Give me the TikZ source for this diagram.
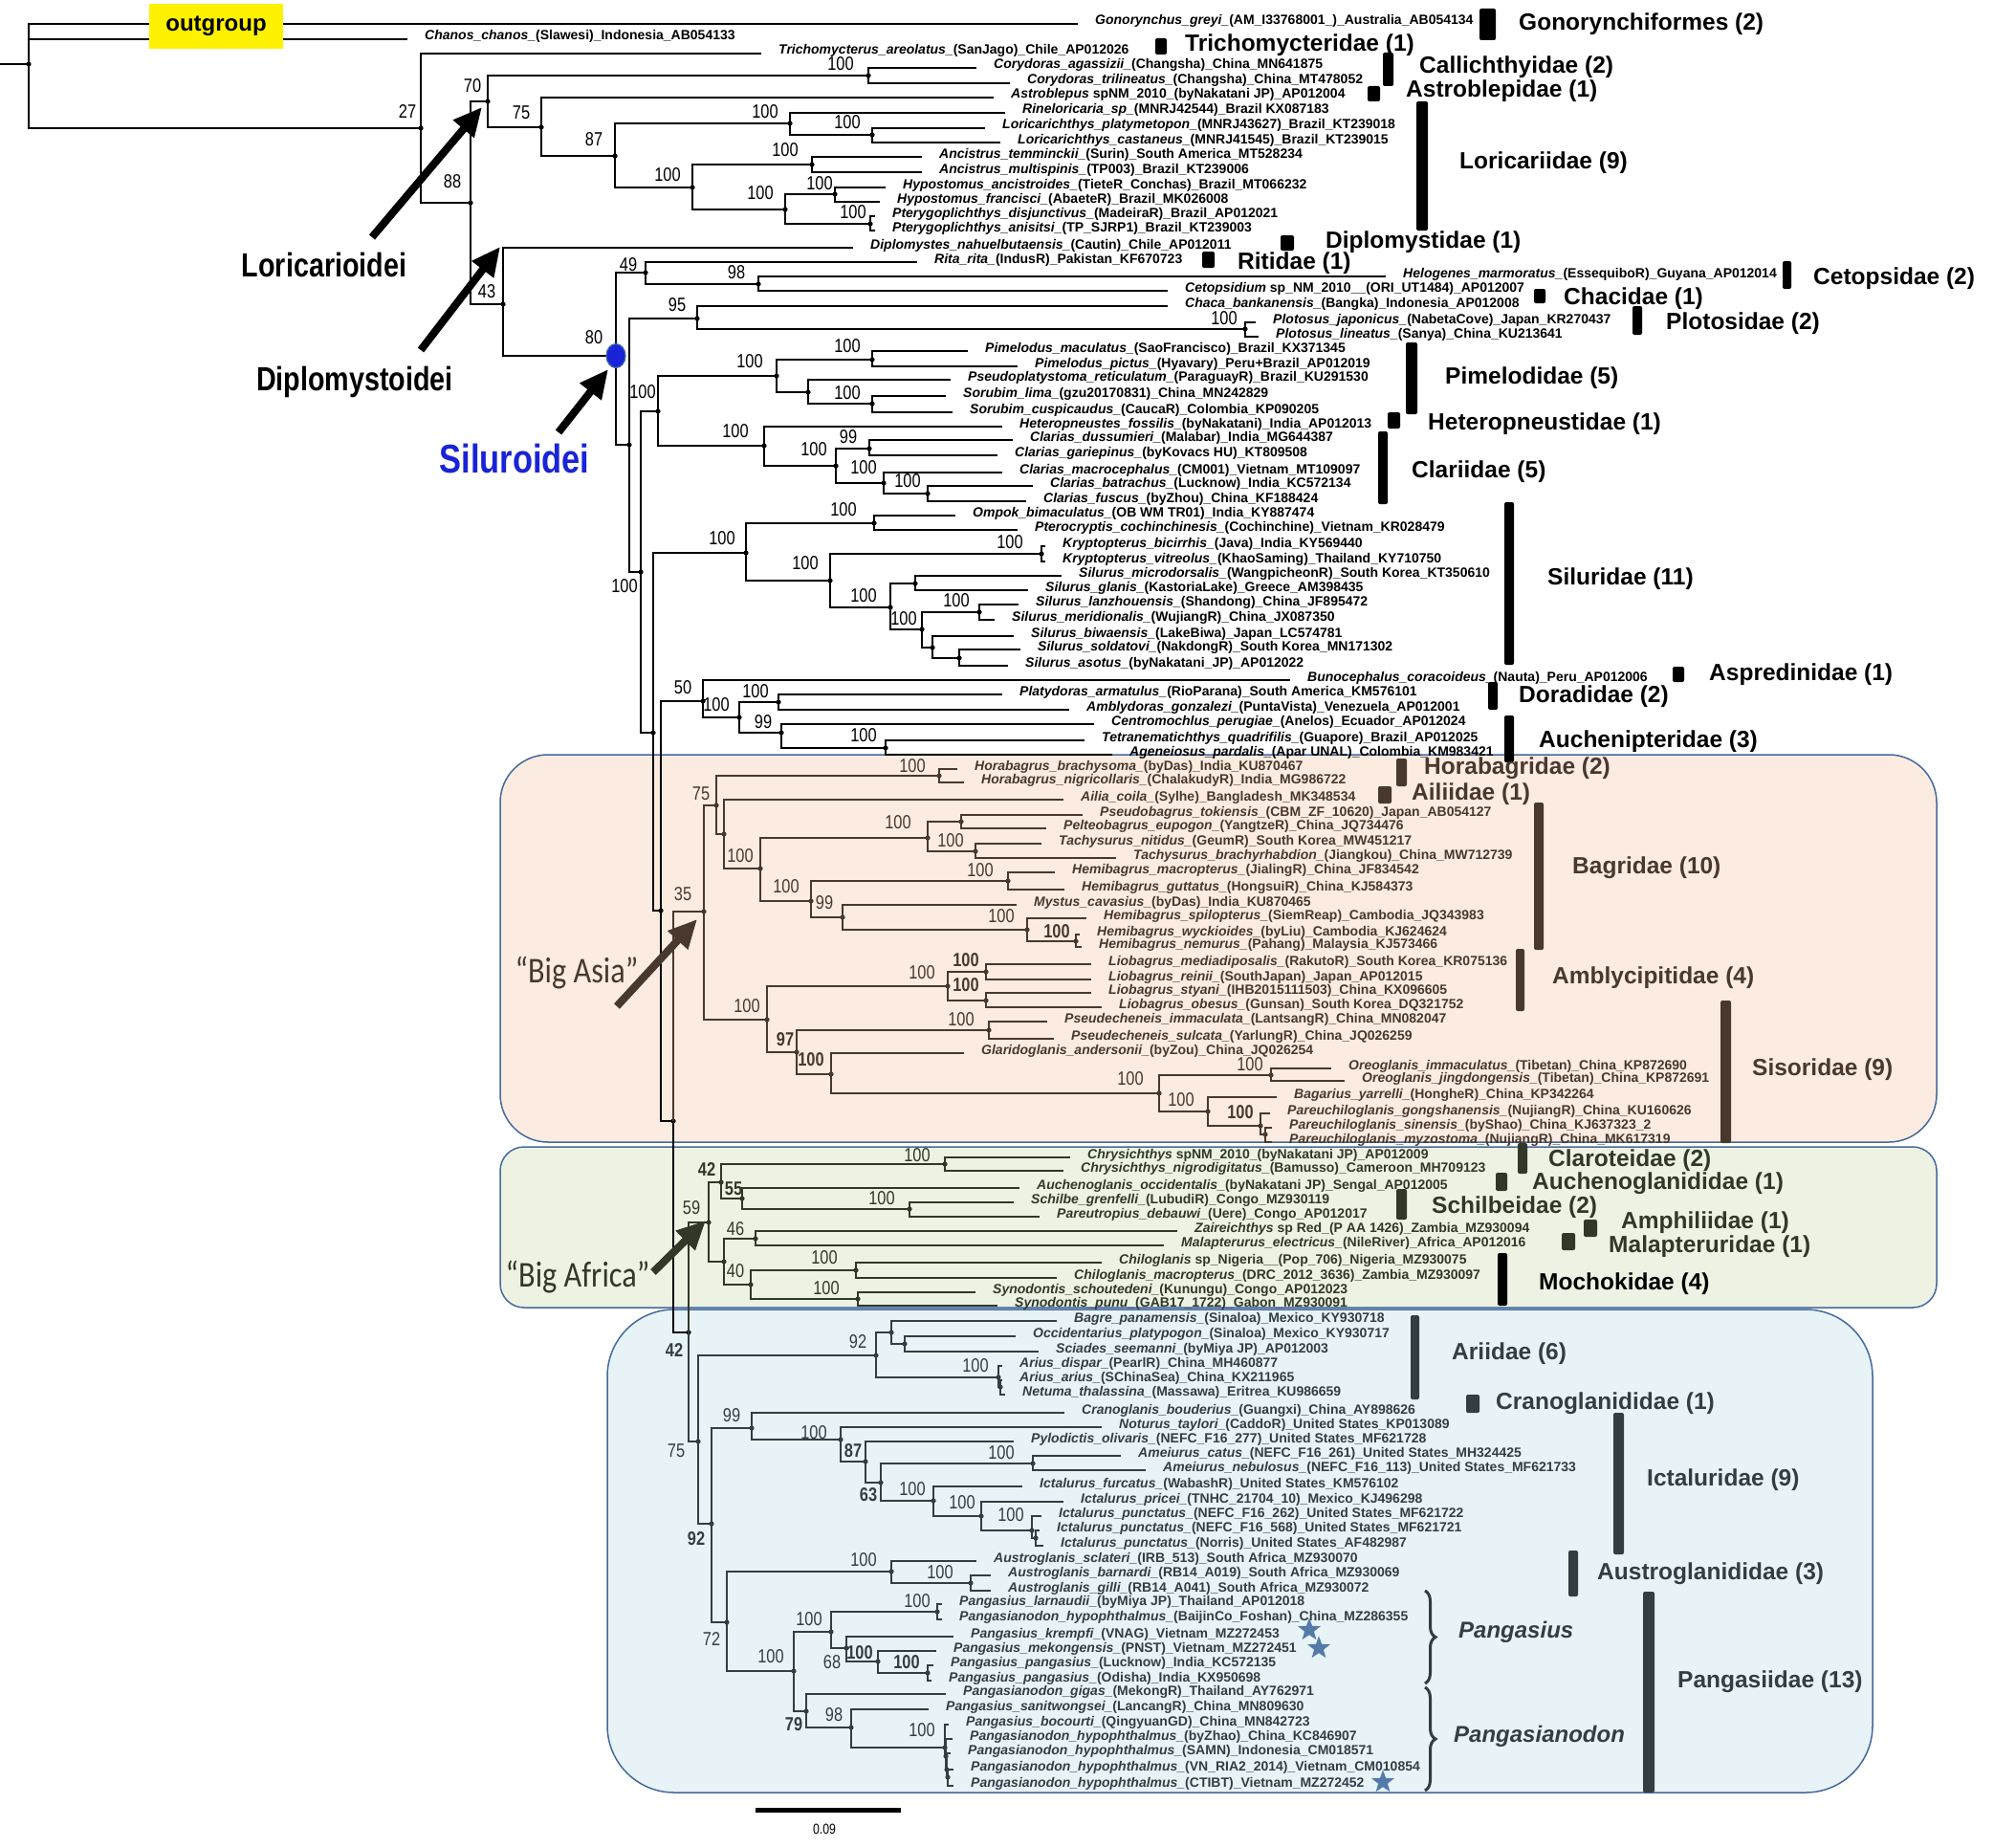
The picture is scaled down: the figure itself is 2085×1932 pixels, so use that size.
\documentclass[tikz,border=0pt]{standalone}
\usepackage{fontspec}
\setmainfont{Liberation Sans}
\newfontfamily\narrowfont{Liberation Sans}[FakeStretch=0.82]
\newfontfamily\calfont{Carlito}[FakeStretch=0.85]
\usetikzlibrary{arrows.meta,shapes.geometric,decorations.pathreplacing}

\definecolor{asiaink}{RGB}{72,56,46}
\definecolor{afrink}{RGB}{50,56,40}
\definecolor{blueink}{RGB}{50,62,68}
\definecolor{asiabg}{RGB}{252,235,224}
\definecolor{afrbg}{RGB}{237,242,226}
\definecolor{bluebg}{RGB}{231,243,247}
\definecolor{boxline}{RGB}{68,106,158}
\definecolor{starblue}{RGB}{84,122,170}
\definecolor{silblue}{RGB}{25,35,215}

\tikzset{
  branch/.style={line width=1.7pt},
  taxlbl/.style={anchor=base west, inner sep=0pt, font=\fontsize{14}{15}\selectfont\bfseries},
  boot/.style={inner sep=0pt, font=\narrowfont\fontsize{20}{20}\selectfont},
  bootbold/.style={inner sep=0pt, font=\narrowfont\fontsize{20}{20}\selectfont\bfseries},
  famlbl/.style={anchor=west, inner sep=0pt, font=\fontsize{24.5}{26}\selectfont\bfseries},
  grplbl/.style={inner sep=0pt, font=\calfont\fontsize{38}{40}\selectfont},
  subord/.style={inner sep=0pt, font=\narrowfont\fontsize{35}{36}\selectfont\bfseries},
  genlbl/.style={anchor=west, inner sep=0pt, font=\fontsize{24}{26}\selectfont\bfseries\itshape},
  grpbox/.style={draw=boxline, line width=1.5pt},
  bigarrow/.style={line width=8pt, -{Triangle[length=30pt,width=27pt]}},
  gstar/.style={star, star points=5, star point ratio=2.4, fill=starblue, inner sep=0pt, minimum size=25pt},
}

% internal node: name, parent, x, y
\newcommand{\cladenode}[4]{%
  \coordinate (#1) at (#3,#4);
  \draw[branch] (#2) |- (#1);
  \fill (#1) circle (2.6pt);}
% terminal: name, parent, end x, y, label
\newcommand{\leaf}[5]{%
  \coordinate (#1) at (#3,#4);
  \draw[branch] (#2) |- (#1);
  \node[taxlbl] (#1-l) at ([xshift=18pt,yshift=-1pt]#1) {#5};}
% support values
\newcommand{\bsval}[4]{\node[boot] (bt-#1) at (#2,#3) {#4};}
\newcommand{\bsvalb}[4]{\node[bootbold] (bt-#1) at (#2,#3) {#4};}
% family bar and name
\newcommand{\famlabel}[8]{%
  \fill[rounded corners=2pt] (#2,#4) rectangle (#3,#5);
  \node[famlbl] (#1) at (#6,#7) {#8};}

\begin{document}
\catcode`\_=12
\begin{tikzpicture}[x=1pt,y=-1pt]
\useasboundingbox (0,0) rectangle (2085,1932);
\fill[white] (0,0) rectangle (2085,1932);

% coloured groups
\draw[grpbox, fill=asiabg, rounded corners=50pt] (523,789) rectangle (2025,1194);
\draw[grpbox, fill=afrbg, rounded corners=25pt] (523,1199) rectangle (2025,1367);
\draw[grpbox, fill=bluebg, rounded corners=70pt] (635,1369) rectangle (1958,1874);

% root and outgroup
\coordinate (stub) at (0,67);
\coordinate (root) at (30,67);
\draw[branch] (stub) -- (root);
\fill (root) circle (2.6pt);
\leaf{gon}{root}{1127}{25}{\textit{Gonorynchus_greyi_}(AM_I33768001_)_Australia_AB054134}
\leaf{chan}{root}{426}{41}{\textit{Chanos_chanos_}(Slawesi)_Indonesia_AB054133}
\node[fill=yellow, minimum width=140pt, minimum height=47pt, inner sep=0pt,
  font=\fontsize{24}{26}\selectfont\bfseries] (outg) at (226,27.5) {outgroup};

% loricarioidei
\cladenode{n27}{root}{440}{134}
\leaf{tric}{n27}{796}{56}{\textit{Trichomycterus_areolatus_}(SanJago)_Chile_AP012026}
\cladenode{n88}{n27}{492}{212}
\cladenode{n70}{n88}{510}{106}
\cladenode{ncal}{n70}{908}{79}
\leaf{cor1}{ncal}{1021}{71}{\textit{Corydoras_agassizii_}(Changsha)_China_MN641875}
\leaf{cor2}{ncal}{1056}{87}{\textit{Corydoras_trilineatus_}(Changsha)_China_MT478052}
\cladenode{n75}{n70}{566}{133}
\leaf{astr}{n75}{1039}{102}{\textit{Astroblepus} spNM_2010_(byNakatani JP)_AP012004}
\cladenode{n87}{n75}{643}{163}
\cladenode{nlo1}{n87}{826}{129}
\leaf{rine}{nlo1}{1051}{118}{\textit{Rineloricaria_sp_}(MNRJ42544)_Brazil KX087183}
\cladenode{nlo3}{nlo1}{912}{141}
\leaf{lor1}{nlo3}{1030}{134}{\textit{Loricarichthys_platymetopon_}(MNRJ43627)_Brazil_KT239018}
\leaf{lor2}{nlo3}{1046}{149}{\textit{Loricarichthys_castaneus_}(MNRJ41545)_Brazil_KT239015}
\cladenode{nlo2}{n87}{724}{196}
\cladenode{nanc}{nlo2}{849}{172}
\leaf{anc1}{nanc}{964}{164}{\textit{Ancistrus_temminckii_}(Surin)_South America_MT528234}
\leaf{anc2}{nanc}{964}{180}{\textit{Ancistrus_multispinis_}(TP003)_Brazil_KT239006}
\cladenode{nhp}{nlo2}{821}{219}
\cladenode{nhyp}{nhp}{873}{203}
\leaf{hyp1}{nhyp}{926}{196}{\textit{Hypostomus_ancistroides_}(TieteR_Conchas)_Brazil_MT066232}
\leaf{hyp2}{nhyp}{920}{211}{\textit{Hypostomus_francisci_}(AbaeteR)_Brazil_MK026008}
\cladenode{npte}{nhp}{910}{234}
\leaf{pte1}{npte}{915}{226}{\textit{Pterygoplichthys_disjunctivus_}(MadeiraR)_Brazil_AP012021}
\leaf{pte2}{npte}{915}{241}{\textit{Pterygoplichthys_anisitsi_}(TP_SJRP1)_Brazil_KT239003}

% diplomystoidei and siluroidei
\cladenode{n43}{n88}{526}{318}
\leaf{dipl}{n43}{892}{259}{\textit{Diplomystes_nahuelbutaensis_}(Cautin)_Chile_AP012011}
\cladenode{nsil}{n43}{644}{372}
\cladenode{n49}{nsil}{675}{285}
\leaf{rita}{n49}{959}{274}{\textit{Rita_rita_}(IndusR)_Pakistan_KF670723}
\cladenode{n98}{n49}{793}{297}
\leaf{helo}{n98}{1449}{289}{\textit{Helogenes_marmoratus_}(EssequiboR)_Guyana_AP012014}
\leaf{ceto}{n98}{1221}{304}{\textit{Cetopsidium} sp_NM_2010__(ORI_UT1484)_AP012007}
\cladenode{na}{nsil}{658}{465}
\cladenode{n95}{na}{729}{333}
\leaf{chac}{n95}{1221}{320}{\textit{Chaca_bankanensis_}(Bangka)_Indonesia_AP012008}
\cladenode{nplo}{n95}{1302}{344}
\leaf{plo1}{nplo}{1313}{337}{\textit{Plotosus_japonicus_}(NabetaCove)_Japan_KR270437}
\leaf{plo2}{nplo}{1316}{352}{\textit{Plotosus_lineatus_}(Sanya)_China_KU213641}
\cladenode{nb}{na}{670}{598}
\cladenode{npc}{nb}{688}{430}
\cladenode{npim}{npc}{812}{393}
\cladenode{npm}{npim}{912}{376}
\leaf{pim1}{npm}{1012}{367}{\textit{Pimelodus_maculatus_}(SaoFrancisco)_Brazil_KX371345}
\leaf{pim2}{npm}{1064}{383}{\textit{Pimelodus_pictus_}(Hyavary)_Peru+Brazil_AP012019}
\cladenode{nps}{npim}{845}{410}
\leaf{pseu}{nps}{994}{397}{\textit{Pseudoplatystoma_reticulatum_}(ParaguayR)_Brazil_KU291530}
\cladenode{nsor}{nps}{912}{422}
\leaf{sor1}{nsor}{989}{414}{\textit{Sorubim_lima_}(gzu20170831)_China_MN242829}
\leaf{sor2}{nsor}{996}{431}{\textit{Sorubim_cuspicaudus_}(CaucaR)_Colombia_KP090205}
\cladenode{nhc}{npc}{799}{466}
\leaf{hete}{nhc}{1048}{446}{\textit{Heteropneustes_fossilis_}(byNakatani)_India_AP012013}
\cladenode{ncla}{nhc}{874}{487}
\cladenode{nc99}{ncla}{909}{469}
\leaf{cla1}{nc99}{1059}{460}{\textit{Clarias_dussumieri_}(Malabar)_India_MG644387}
\leaf{cla2}{nc99}{1043}{476}{\textit{Clarias_gariepinus_}(byKovacs HU)_KT809508}
\cladenode{ncl2}{ncla}{924}{505}
\leaf{cla3}{ncl2}{1048}{494}{\textit{Clarias_macrocephalus_}(CM001)_Vietnam_MT109097}
\cladenode{ncl3}{ncl2}{970}{516}
\leaf{cla4}{ncl3}{1080}{508}{\textit{Clarias_batrachus_}(Lucknow)_India_KC572134}
\leaf{cla5}{ncl3}{1073}{524}{\textit{Clarias_fuscus_}(byZhou)_China_KF188424}
\cladenode{nc}{nb}{683}{766}
\cladenode{nslu}{nc}{780}{578}
\cladenode{nomp}{nslu}{914}{547}
\leaf{ompo}{nomp}{999}{539}{\textit{Ompok_bimaculatus_}(OB WM TR01)_India_KY887474}
\leaf{pter}{nomp}{1064}{554}{\textit{Pterocryptis_cochinchinesis_}(Cochinchine)_Vietnam_KR028479}
\cladenode{nsk}{nslu}{868}{607}
\cladenode{nkry}{nsk}{1089}{579}
\leaf{kry1}{nkry}{1093}{571}{\textit{Kryptopterus_bicirrhis_}(Java)_India_KY569440}
\leaf{kry2}{nkry}{1093}{587}{\textit{Kryptopterus_vitreolus_}(KhaoSaming)_Thailand_KY710750}
\cladenode{ns1}{nsk}{931}{635}
\cladenode{ns2}{ns1}{957}{610}
\leaf{sil1}{ns2}{1110}{602}{\textit{Silurus_microdorsalis_}(WangpicheonR)_South Korea_KT350610}
\leaf{sil2}{ns2}{1075}{617}{\textit{Silurus_glanis_}(KastoriaLake)_Greece_AM398435}
\cladenode{ns3}{ns1}{964}{658}
\cladenode{ns4}{ns3}{1024}{640}
\leaf{sil3}{ns4}{1065}{632}{\textit{Silurus_lanzhouensis_}(Shandong)_China_JF895472}
\leaf{sil4}{ns4}{1040}{648}{\textit{Silurus_meridionalis_}(WujiangR)_China_JX087350}
\cladenode{ns5}{ns3}{975}{677}
\leaf{sil5}{ns5}{1060}{665}{\textit{Silurus_biwaensis_}(LakeBiwa)_Japan_LC574781}
\cladenode{ns6}{ns5}{1003}{688}
\leaf{sil6}{ns6}{1067}{679}{\textit{Silurus_soldatovi_}(NakdongR)_South Korea_MN171302}
\leaf{sil7}{ns6}{1054}{696}{\textit{Silurus_asotus_}(byNakatani_JP)_AP012022}
\cladenode{nd}{nc}{691}{952}
\cladenode{n50}{nd}{735}{733}
\leaf{buno}{n50}{1349}{711}{\textit{Bunocephalus_coracoideus_}(Nauta)_Peru_AP012006}
\cladenode{ndd}{n50}{773}{750}
\cladenode{ndor}{ndd}{814}{734}
\leaf{plat}{ndor}{1048}{726}{\textit{Platydoras_armatulus_}(RioParana)_South America_KM576101}
\leaf{ambl}{ndor}{1118}{742}{\textit{Amblydoras_gonzalezi_}(PuntaVista)_Venezuela_AP012001}
\cladenode{n99a}{ndd}{817}{766}
\leaf{cent}{n99a}{1144}{757}{\textit{Centromochlus_perugiae_}(Anelos)_Ecuador_AP012024}
\cladenode{nta}{n99a}{926}{782}
\leaf{tetr}{nta}{1134}{774}{\textit{Tetranematichthys_quadrifilis_}(Guapore)_Brazil_AP012025}
\leaf{agen}{nta}{1163}{789}{\textit{Ageneiosus_pardalis_}(Apar UNAL)_Colombia_KM983421}
\cladenode{ne}{nd}{704}{1172}
\cladenode{nf}{ne}{720}{1393}

\bsval{n27}{426}{117}{27}
\bsval{n70}{494}{90}{70}
\bsval{n88}{473}{190}{88}
\bsval{n43}{509}{305}{43}
\bsval{n75}{545}{118}{75}
\bsval{n87}{621}{146}{87}
\bsval{ncal}{879}{67}{100}
\bsval{nlo1}{800}{117}{100}
\bsval{nlo3}{886}{128}{100}
\bsval{nanc}{821}{157}{100}
\bsval{nlo2}{698}{183}{100}
\bsval{nhyp}{857}{192}{100}
\bsval{nhp}{795}{202}{100}
\bsval{npte}{892}{222}{100}
\bsval{n49}{657}{277}{49}
\bsval{n98}{770}{285}{98}
\bsval{n95}{708}{319}{95}
\bsval{nsil}{621}{353}{80}
\bsval{nplo}{1280}{333}{100}
\bsval{npim}{784}{378}{100}
\bsval{npm}{886}{362}{100}
\bsval{nsor}{886}{411}{100}
\bsval{npc}{672}{410}{100}
\bsval{nhc}{769}{451}{100}
\bsval{nc99}{887}{457}{99}
\bsval{ncla}{851}{470}{100}
\bsval{ncl2}{903}{489}{100}
\bsval{ncl3}{949}{503}{100}
\bsval{nomp}{882}{533}{100}
\bsval{nslu}{755}{563}{100}
\bsval{nkry}{1056}{567}{100}
\bsval{nsk}{842}{589}{100}
\bsval{nb}{653}{613}{100}
\bsval{ns1}{903}{623}{100}
\bsval{ns4}{1000}{628}{100}
\bsval{ns3}{945}{647}{100}
\bsval{n50}{714}{719}{50}
\bsval{ndor}{790}{723}{100}
\bsval{ndd}{749}{737}{100}
\bsval{n99a}{798}{755}{99}
\bsval{nta}{903}{769}{100}

\famlabel{gonfam}{1547}{1564}{9}{42}{1588}{25}{Gonorynchiformes (2)}
\famlabel{trifam}{1208}{1220}{40}{57}{1239}{47}{Trichomycteridae (1)}
\famlabel{calfam}{1446}{1457}{55}{90}{1484}{70}{Callichthyidae (2)}
\famlabel{astfam}{1430}{1443}{90}{106}{1470}{95}{Astroblepidae (1)}
\famlabel{lorfam}{1481}{1493}{106}{241}{1526}{170}{Loricariidae (9)}
\famlabel{dipfam}{1339}{1353}{246}{262}{1386}{253}{Diplomystidae (1)}
\famlabel{ritfam}{1257}{1270}{263}{280}{1294}{275}{Ritidae (1)}
\famlabel{cetfam}{1864}{1873}{273}{302}{1896}{291}{Cetopsidae (2)}
\famlabel{chafam}{1604}{1616}{302}{317}{1635}{312}{Chacidae (1)}
\famlabel{plofam}{1707}{1717}{320}{350}{1742}{338}{Plotosidae (2)}
\famlabel{pimfam}{1470}{1482}{358}{433}{1511}{395}{Pimelodidae (5)}
\famlabel{hetfam}{1451}{1464}{431}{448}{1493}{443}{Heteropneustidae (1)}
\famlabel{clafam}{1441}{1451}{451}{527}{1476}{493}{Clariidae (5)}
\famlabel{silfam}{1573}{1583}{525}{695}{1618}{605}{Siluridae (11)}
\famlabel{aspfam}{1749}{1761}{697}{713}{1787}{705}{Aspredinidae (1)}
\famlabel{dorfam}{1556}{1566}{713}{742}{1588}{728}{Doradidae (2)}
\famlabel{aucfam}{1573}{1583}{748}{797}{1609}{775}{Auchenipteridae (3)}

% big asia
\begin{scope}[color=asiaink]
\cladenode{nba}{ne}{736}{953}
\cladenode{n75a}{nba}{749}{842}
\cladenode{nhor}{n75a}{982}{811}
\leaf{hor1}{nhor}{1001}{804}{\textit{Horabagrus_brachysoma_}(byDas)_India_KU870467}
\leaf{hor2}{nhor}{1008}{818}{\textit{Horabagrus_nigricollaris_}(ChalakudyR)_India_MG986722}
\cladenode{n7b}{n75a}{757}{872}
\leaf{aili}{n7b}{1112}{836}{\textit{Ailia_coila_}(Sylhe)_Bangladesh_MK348534}
\cladenode{nbag}{n7b}{795}{908}
\cladenode{npt}{nbag}{970}{876}
\cladenode{npp}{npt}{1005}{859}
\leaf{psbg}{npp}{1132}{852}{\textit{Pseudobagrus_tokiensis_}(CBM_ZF_10620)_Japan_AB054127}
\leaf{pelt}{npp}{1094}{866}{\textit{Pelteobagrus_eupogon_}(YangtzeR)_China_JQ734476}
\cladenode{ntac}{npt}{1020}{890}
\leaf{tac1}{ntac}{1089}{882}{\textit{Tachysurus_nitidus_}(GeumR)_South Korea_MW451217}
\leaf{tac2}{ntac}{1167}{897}{\textit{Tachysurus_brachyrhabdion_}(Jiangkou)_China_MW712739}
\cladenode{n848}{nbag}{848}{942}
\cladenode{nhm}{n848}{1054}{921}
\leaf{hem1}{nhm}{1103}{912}{\textit{Hemibagrus_macropterus_}(JialingR)_China_JF834542}
\leaf{hem2}{nhm}{1113}{930}{\textit{Hemibagrus_guttatus_}(HongsuiR)_China_KJ584373}
\cladenode{n99b}{n848}{881}{959}
\leaf{myst}{n99b}{1063}{946}{\textit{Mystus_cavasius_}(byDas)_India_KU870465}
\cladenode{nhs}{n99b}{1074}{972}
\leaf{hem3}{nhs}{1136}{960}{\textit{Hemibagrus_spilopterus_}(SiemReap)_Cambodia_JQ343983}
\cladenode{nhw}{nhs}{1125}{984}
\leaf{hem4}{nhw}{1129}{977}{\textit{Hemibagrus_wyckioides_}(byLiu)_Cambodia_KJ624624}
\leaf{hem5}{nhw}{1131}{990}{\textit{Hemibagrus_nemurus_}(Pahang)_Malaysia_KJ573466}
\cladenode{nsis}{nba}{802}{1066}
\cladenode{namb}{nsis}{991}{1031}
\cladenode{nl1}{namb}{1031}{1016}
\leaf{lio1}{nl1}{1141}{1008}{\textit{Liobagrus_mediadiposalis_}(RakutoR)_South Korea_KR075136}
\leaf{lio2}{nl1}{1141}{1024}{\textit{Liobagrus_reinii_}(SouthJapan)_Japan_AP012015}
\cladenode{nl2}{namb}{1031}{1046}
\leaf{lio3}{nl2}{1141}{1038}{\textit{Liobagrus_styani_}(IHB2015111503)_China_KX096605}
\leaf{lio4}{nl2}{1152}{1053}{\textit{Liobagrus_obesus_}(Gunsan)_South Korea_DQ321752}
\cladenode{n97}{nsis}{833}{1100}
\cladenode{npsd}{n97}{1034}{1077}
\leaf{psd1}{npsd}{1095}{1068}{\textit{Pseudecheneis_immaculata_}(LantsangR)_China_MN082047}
\leaf{psd2}{npsd}{1102}{1086}{\textit{Pseudecheneis_sulcata_}(YarlungR)_China_JQ026259}
\cladenode{n869}{n97}{869}{1123}
\leaf{glar}{n869}{1008}{1101}{\textit{Glaridoglanis_andersonii_}(byZou)_China_JQ026254}
\cladenode{nsi2}{n869}{1212}{1143}
\cladenode{nore}{nsi2}{1329}{1124}
\leaf{ore1}{nore}{1392}{1117}{\textit{Oreoglanis_immaculatus_}(Tibetan)_China_KP872690}
\leaf{ore2}{nore}{1406}{1130}{\textit{Oreoglanis_jingdongensis_}(Tibetan)_China_KP872691}
\cladenode{nsi3}{nsi2}{1263}{1162}
\leaf{baga}{nsi3}{1335}{1147}{\textit{Bagarius_yarrelli_}(HongheR)_China_KP342264}
\cladenode{npar}{nsi3}{1318}{1177}
\leaf{par1}{npar}{1328}{1164}{\textit{Pareuchiloglanis_gongshanensis_}(NujiangR)_China_KU160626}
\cladenode{npr2}{npar}{1323}{1186}
\leaf{par2}{npr2}{1330}{1179}{\textit{Pareuchiloglanis_sinensis_}(byShao)_China_KJ637323_2}
\leaf{par3}{npr2}{1330}{1194}{\textit{Pareuchiloglanis_myzostoma_}(NujiangR)_China_MK617319}

\bsval{nhor}{954}{801}{100}
\bsval{n75a}{733}{830}{75}
\bsval{npt}{939}{860}{100}
\bsval{ntac}{994}{879}{100}
\bsval{nbag}{774}{895}{100}
\bsval{nhm}{1025}{910}{100}
\bsval{n848}{822}{927}{100}
\bsval{n99b}{862}{944}{99}
\bsval{nba}{714}{935}{35}
\bsval{nhs}{1047}{958}{100}
\bsvalb{nhw}{1105}{974}{100}
\bsvalb{nl1}{1010}{1004}{100}
\bsval{namb}{964}{1017}{100}
\bsvalb{nl2}{1010}{1030}{100}
\bsval{nsis}{781}{1052}{100}
\bsval{npsd}{1005}{1066}{100}
\bsvalb{n97}{821}{1087}{97}
\bsvalb{n869}{848}{1108}{100}
\bsval{nore}{1307}{1113}{100}
\bsval{nsi2}{1182}{1128}{100}
\bsval{nsi3}{1235}{1150}{100}
\bsvalb{npar}{1297}{1163}{100}

\famlabel{horfam}{1460}{1471}{793}{822}{1489}{803}{Horabagridae (2)}
\famlabel{ailfam}{1441}{1455}{822}{840}{1476}{830}{Ailiidae (1)}
\famlabel{bagfam}{1604}{1614}{839}{993}{1644}{907}{Bagridae (10)}
\famlabel{ambfam}{1585}{1594}{992}{1057}{1623}{1022}{Amblycipitidae (4)}
\famlabel{sisfam}{1799}{1810}{1046}{1195}{1832}{1118}{Sisoridae (9)}
\end{scope}

% big africa
\begin{scope}[color=afrink]
\cladenode{nbaf}{nf}{741}{1278}
\cladenode{n42a}{nbaf}{754}{1236}
\cladenode{nclr}{n42a}{988}{1217}
\leaf{chr1}{nclr}{1119}{1210}{\textit{Chrysichthys} spNM_2010_(byNakatani JP)_AP012009}
\leaf{chr2}{nclr}{1112}{1224}{\textit{Chrysichthys_nigrodigitatus_}(Bamusso)_Cameroon_MH709123}
\cladenode{n55}{n42a}{776}{1253}
\leaf{auch}{n55}{1066}{1242}{\textit{Auchenoglanis_occidentalis_}(byNakatani JP)_Sengal_AP012005}
\cladenode{nscb}{n55}{951}{1264}
\leaf{schi}{nscb}{1060}{1257}{\textit{Schilbe_grenfelli_}(LubudiR)_Congo_MZ930119}
\leaf{pareu}{nscb}{1087}{1272}{\textit{Pareutropius_debauwi_}(Uere)_Congo_AP012017}
\cladenode{n319}{nbaf}{757}{1319}
\cladenode{n46}{n319}{790}{1295}
\leaf{zair}{n46}{1231}{1287}{\textit{Zaireichthys} sp Red_(P AA 1426)_Zambia_MZ930094}
\leaf{mala}{n46}{1217}{1302}{\textit{Malapterurus_electricus_}(NileRiver)_Africa_AP012016}
\cladenode{n40}{n319}{785}{1343}
\cladenode{nchi}{n40}{895}{1328}
\leaf{chi1}{nchi}{1152}{1320}{\textit{Chiloglanis} sp_Nigeria__(Pop_706)_Nigeria_MZ930075}
\leaf{chi2}{nchi}{1105}{1336}{\textit{Chiloglanis_macropterus_}(DRC_2012_3636)_Zambia_MZ930097}
\cladenode{nsyn}{n40}{897}{1358}
\leaf{syn1}{nsyn}{1020}{1351}{\textit{Synodontis_schoutedeni_}(Kunungu)_Congo_AP012023}
\leaf{syn2}{nsyn}{1043}{1365}{\textit{Synodontis_punu_}(GAB17_1722)_Gabon_MZ930091}

\bsval{nclr}{959}{1208}{100}
\bsvalb{n42a}{739}{1223}{42}
\bsvalb{n55}{767}{1243}{55}
\bsval{nscb}{922}{1253}{100}
\bsval{nbaf}{723}{1263}{59}
\bsval{n46}{769}{1285}{46}
\bsval{nchi}{862}{1315}{100}
\bsval{n40}{769}{1329}{40}
\bsval{nsyn}{864}{1347}{100}

\famlabel{clrfam}{1587}{1597}{1195}{1227}{1619}{1213}{Claroteidae (2)}
\famlabel{aucgfam}{1564}{1576}{1226}{1245}{1602}{1237}{Auchenoglanididae (1)}
\famlabel{schfam}{1460}{1471}{1243}{1275}{1497}{1262}{Schilbeidae (2)}
\famlabel{amphfam}{1656}{1670}{1275}{1293}{1695}{1278}{Amphiliidae (1)}
\famlabel{malfam}{1633}{1647}{1289}{1307}{1682}{1303}{Malapteruridae (1)}
\end{scope}
\famlabel{mocfam}{1566}{1576}{1310}{1365}{1609}{1342}{Mochokidae (4)}

% remaining siluroids
\begin{scope}[color=blueink]
\cladenode{ng}{nf}{730}{1507}
\cladenode{nari}{ng}{916}{1417}
\cladenode{nbo}{nari}{932}{1393}
\leaf{bagr}{nbo}{1105}{1381}{\textit{Bagre_panamensis_}(Sinaloa)_Mexico_KY930718}
\cladenode{nos}{nbo}{946}{1405}
\leaf{occi}{nos}{1062}{1397}{\textit{Occidentarius_platypogon_}(Sinaloa)_Mexico_KY930717}
\leaf{scia}{nos}{1086}{1413}{\textit{Sciades_seemanni_}(byMiya JP)_AP012003}
\cladenode{nar2}{nari}{1044}{1440}
\leaf{ari1}{nar2}{1048}{1428}{\textit{Arius_dispar_}(PearlR)_China_MH460877}
\cladenode{nar3}{nar2}{1046}{1450}
\leaf{ari2}{nar3}{1048}{1443}{\textit{Arius_arius_}(SChinaSea)_China_KX211965}
\leaf{netu}{nar3}{1051}{1458}{\textit{Netuma_thalassina_}(Massawa)_Eritrea_KU986659}
\cladenode{nh}{ng}{744}{1593}
\cladenode{n99d}{nh}{786}{1493}
\leaf{cran}{n99d}{1113}{1477}{\textit{Cranoglanis_bouderius_}(Guangxi)_China_AY898626}
\cladenode{nict1}{n99d}{879}{1505}
\leaf{notu}{nict1}{1152}{1492}{\textit{Noturus_taylori_}(CaddoR)_United States_KP013089}
\cladenode{n87b}{nict1}{905}{1528}
\leaf{pylo}{n87b}{1060}{1507}{\textit{Pylodictis_olivaris_}(NEFC_F16_277)_United States_MF621728}
\cladenode{n63}{n87b}{921}{1550}
\cladenode{name}{n63}{1080}{1530}
\leaf{ame1}{name}{1172}{1522}{\textit{Ameiurus_catus_}(NEFC_F16_261)_United States_MH324425}
\leaf{ame2}{name}{1198}{1537}{\textit{Ameiurus_nebulosus_}(NEFC_F16_113)_United States_MF621733}
\cladenode{nic}{n63}{976}{1569}
\leaf{ict1}{nic}{1069}{1554}{\textit{Ictalurus_furcatus_}(WabashR)_United States_KM576102}
\cladenode{nic2}{nic}{1026}{1585}
\leaf{ict2}{nic2}{1112}{1570}{\textit{Ictalurus_pricei_}(TNHC_21704_10)_Mexico_KJ496298}
\cladenode{nic3}{nic2}{1079}{1600}
\leaf{ict3}{nic3}{1089}{1585}{\textit{Ictalurus_punctatus_}(NEFC_F16_262)_United States_MF621722}
\cladenode{nic4}{nic3}{1083}{1608}
\leaf{ict4}{nic4}{1087}{1600}{\textit{Ictalurus_punctatus_}(NEFC_F16_568)_United States_MF621721}
\leaf{ict5}{nic4}{1091}{1616}{\textit{Ictalurus_punctatus_}(Norris)_United States_AF482987}
\cladenode{n72}{nh}{760}{1696}
\cladenode{naus}{n72}{932}{1643}
\leaf{aus1}{naus}{1021}{1632}{\textit{Austroglanis_sclateri_}(IRB_513)_South Africa_MZ930070}
\cladenode{nau2}{naus}{1015}{1655}
\leaf{aus2}{nau2}{1036}{1647}{\textit{Austroglanis_barnardi_}(RB14_A019)_South Africa_MZ930069}
\leaf{aus3}{nau2}{1036}{1663}{\textit{Austroglanis_gilli_}(RB14_A041)_South Africa_MZ930072}
\cladenode{npan}{n72}{830}{1747}
\cladenode{npa1}{npan}{869}{1706}
\cladenode{nlar}{npa1}{980}{1685}
\leaf{pan1}{nlar}{985}{1677}{\textit{Pangasius_larnaudii_}(byMiya JP)_Thailand_AP012018}
\leaf{pan2}{nlar}{985}{1693}{\textit{Pangasianodon_hypophthalmus_}(BaijinCo_Foshan)_China_MZ286355}
\cladenode{n68}{npa1}{885}{1723}
\leaf{pan3}{n68}{997}{1711}{\textit{Pangasius_krempfi_}(VNAG)_Vietnam_MZ272453}
\cladenode{npa2}{n68}{918}{1737}
\leaf{pan4}{npa2}{979}{1726}{\textit{Pangasius_mekongensis_}(PNST)_Vietnam_MZ272451}
\cladenode{npa3}{npa2}{970}{1749}
\leaf{pan5}{npa3}{976}{1741}{\textit{Pangasius_pangasius_}(Lucknow)_India_KC572135}
\leaf{pan6}{npa3}{974}{1757}{\textit{Pangasius_pangasius_}(Odisha)_India_KX950698}
\cladenode{n79}{npan}{843}{1789}
\leaf{pgi1}{n79}{989}{1771}{\textit{Pangasianodon_gigas_}(MekongR)_Thailand_AY762971}
\cladenode{n98b}{n79}{890}{1806}
\leaf{pgi2}{n98b}{971}{1787}{\textit{Pangasius_sanitwongsei_}(LancangR)_China_MN809630}
\cladenode{npg1}{n98b}{988}{1827}
\leaf{pgi3}{npg1}{992}{1803}{\textit{Pangasius_bocourti_}(QingyuanGD)_China_MN842723}
\cladenode{npg2}{npg1}{989}{1836}
\leaf{pgi4}{npg2}{996}{1818}{\textit{Pangasianodon_hypophthalmus_}(byZhao)_China_KC846907}
\cladenode{npg3}{npg2}{990}{1850}
\leaf{pgi5}{npg3}{994}{1833}{\textit{Pangasianodon_hypophthalmus_}(SAMN)_Indonesia_CM018571}
\cladenode{npg4}{npg3}{991}{1858}
\leaf{pgi6}{npg4}{997}{1850}{\textit{Pangasianodon_hypophthalmus_}(VN_RIA2_2014)_Vietnam_CM010854}
\leaf{pgi7}{npg4}{997}{1867}{\textit{Pangasianodon_hypophthalmus_}(CTIBT)_Vietnam_MZ272452}

\bsval{nari}{897}{1403}{92}
\bsvalb{nf}{705}{1412}{42}
\bsval{nar2}{1020}{1428}{100}
\bsval{n99d}{765}{1480}{99}
\bsval{nict1}{851}{1498}{100}
\bsval{ng}{707}{1517}{75}
\bsvalb{n87b}{892}{1517}{87}
\bsval{name}{1047}{1519}{100}
\bsval{nic}{954}{1557}{100}
\bsvalb{n63}{908}{1563}{63}
\bsval{nic2}{1006}{1571}{100}
\bsval{nic3}{1057}{1584}{100}
\bsvalb{nh}{728}{1609}{92}
\bsval{naus}{903}{1631}{100}
\bsval{nau2}{983}{1644}{100}
\bsval{nlar}{959}{1674}{100}
\bsval{npa1}{846}{1693}{100}
\bsval{n72}{744}{1713}{72}
\bsval{npan}{806}{1732}{100}
\bsvalb{npa2}{899}{1728}{100}
\bsval{n68}{870}{1738}{68}
\bsvalb{npa3}{948}{1738}{100}
\bsval{n98b}{872}{1793}{98}
\bsvalb{n79}{830}{1803}{79}
\bsval{npg1}{964}{1809}{100}

\famlabel{arifam}{1475}{1484}{1375}{1463}{1518}{1415}{Ariidae (6)}
\famlabel{crafam}{1533}{1547}{1458}{1477}{1564}{1467}{Cranoglanididae (1)}
\famlabel{ictfam}{1687}{1698}{1477}{1625}{1722}{1547}{Ictaluridae (9)}
\famlabel{ausfam}{1640}{1650}{1621}{1669}{1670}{1645}{Austroglanididae (3)}
\famlabel{panfam}{1718}{1730}{1664}{1874}{1754}{1758}{Pangasiidae (13)}

% genus braces
\coordinate (br1a) at (1490,1663);
\coordinate (br1b) at (1490,1760);
\coordinate (br2a) at (1490,1764);
\coordinate (br2b) at (1490,1872);
\draw[line width=3pt, decorate, decoration={brace, amplitude=11pt}] (br1a) -- (br1b);
\draw[line width=3pt, decorate, decoration={brace, amplitude=11pt}] (br2a) -- (br2b);
\node[genlbl] (pgsius) at (1525,1706) {Pangasius};
\node[genlbl] (pgsnod) at (1520,1815) {Pangasianodon};
\end{scope}

% new records
\node[gstar] (star1) at (1369,1704) {};
\node[gstar] (star2) at (1379,1723) {};
\node[gstar] (star3) at (1446,1863) {};

% suborders
\node[ellipse, fill=silblue, draw=boxline, line width=1.2pt, minimum width=20pt,
  minimum height=25pt, inner sep=0pt] (silnode) at (nsil) {};
\node[subord] (lorlbl) at (339,277) {Loricarioidei};
\node[subord] (diplbl) at (371,399) {Diplomystoidei};
\node[subord, text=silblue, font=\narrowfont\fontsize{42}{44}\selectfont\bfseries] (sillbl) at (538,479) {Siluroidei};
\coordinate (lorA) at (389,248);
\coordinate (lorB) at (504,112);
\draw[bigarrow] (lorA) -- (lorB);
\coordinate (dipA) at (440,366);
\coordinate (dipB) at (523,258);
\draw[bigarrow] (dipA) -- (dipB);
\coordinate (silA) at (584,452);
\coordinate (silB) at (636,386);
\draw[bigarrow] (silA) -- (silB);

% big asia / big africa
\node[grplbl, text=asiaink] (asialbl) at (603,1017) {“Big Asia”};
\node[grplbl, text=afrink] (afrlbl) at (604,1335) {“Big Africa”};
\coordinate (asA) at (645,1052);
\coordinate (asB) at (729,961);
\draw[bigarrow, color=asiaink] (asA) -- (asB);
\coordinate (afA) at (683,1330);
\coordinate (afB) at (738,1276);
\draw[bigarrow, color=afrink] (afA) -- (afB);

% scale bar
\coordinate (sb1) at (790,1892);
\coordinate (sb2) at (942,1892);
\draw[line width=5pt] (sb1) -- (sb2);
\node[inner sep=0pt, font=\narrowfont\fontsize{15}{15}\selectfont] (sblbl) at (862,1912) {0.09};

\end{tikzpicture}
\end{document}
